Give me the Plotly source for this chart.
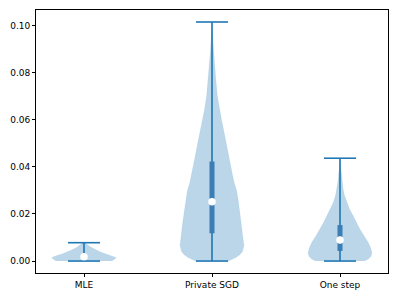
import plotly.graph_objects as go

categories = ["MLE", "Private SGD", "One step"]
positions = [1, 2, 3]

# data summary per group
mins = [0.0, 0.0, 0.0]
maxs = [0.0078, 0.1016, 0.0437]
q1s = [0.0012, 0.0118, 0.0043]
q3s = [0.0026, 0.0423, 0.0153]
medians = [0.0018, 0.0252, 0.0089]

# violin outline: values and relative density (1 = widest)
mle_vals = [0.0, 0.0004, 0.0010, 0.0015, 0.0020, 0.0030, 0.0040, 0.0050, 0.0060, 0.0070, 0.0078]
mle_dens = [0.87, 0.93, 0.98, 1.0, 0.92, 0.69, 0.50, 0.34, 0.21, 0.10, 0.04]

sgd_vals = [0.0, 0.0008, 0.0015, 0.0026, 0.004, 0.0065, 0.010, 0.015, 0.018, 0.022, 0.026,
            0.030, 0.033, 0.036, 0.040, 0.045, 0.050, 0.053, 0.056, 0.060, 0.064, 0.070,
            0.078, 0.085, 0.090, 0.095, 0.1016]
sgd_dens = [0.52, 0.66, 0.75, 0.86, 0.95, 1.0, 0.98, 0.93, 0.90, 0.86, 0.82,
            0.77, 0.70, 0.65, 0.59, 0.52, 0.45, 0.40, 0.36, 0.30, 0.24, 0.17,
            0.115, 0.072, 0.047, 0.025, 0.006]

one_vals = [0.0, 0.0008, 0.0020, 0.0035, 0.0055, 0.0080, 0.0110, 0.0136, 0.0165, 0.0192,
            0.0220, 0.0249, 0.0280, 0.0305, 0.0335, 0.0360, 0.0400, 0.0437]
one_dens = [0.76, 0.88, 0.97, 1.0, 0.96, 0.88, 0.74, 0.62, 0.51, 0.41,
            0.30, 0.21, 0.14, 0.10, 0.07, 0.05, 0.025, 0.005]

profiles = [(mle_vals, mle_dens), (sgd_vals, sgd_dens), (one_vals, one_dens)]

half_width = 0.25
cap_half = 0.125
body_color = "rgba(31,119,180,0.3)"
line_color = "#1f77b4"
box_color = "#3b7db5"

fig = go.Figure()

for pos, (vals, dens) in zip(positions, profiles):
    xs = [pos - half_width * d for d in dens] + [pos + half_width * d for d in reversed(dens)]
    ys = list(vals) + list(reversed(vals))
    fig.add_trace(go.Scatter(x=xs, y=ys, mode="lines", fill="toself",
                             fillcolor=body_color, line=dict(color="rgba(31,119,180,0.12)", width=0.5),
                             hoverinfo="skip", showlegend=False))

# whiskers
wx, wy = [], []
for pos, lo, hi in zip(positions, mins, maxs):
    wx += [pos, pos, None]
    wy += [lo, hi, None]
fig.add_trace(go.Scatter(x=wx, y=wy, mode="lines", line=dict(color=line_color, width=1.6),
                         hoverinfo="skip", showlegend=False))

# caps
cx, cy = [], []
for pos, lo, hi in zip(positions, mins, maxs):
    cx += [pos - cap_half, pos + cap_half, None, pos - cap_half, pos + cap_half, None]
    cy += [lo, lo, None, hi, hi, None]
fig.add_trace(go.Scatter(x=cx, y=cy, mode="lines", line=dict(color=line_color, width=1.6),
                         hoverinfo="skip", showlegend=False))

# quartile boxes
bx, by = [], []
for pos, a, b in zip(positions, q1s, q3s):
    bx += [pos, pos, None]
    by += [a, b, None]
fig.add_trace(go.Scatter(x=bx, y=by, mode="lines", line=dict(color=box_color, width=5),
                         hoverinfo="skip", showlegend=False))

# medians
fig.add_trace(go.Scatter(x=positions, y=medians, mode="markers",
                         marker=dict(color="white", size=7.5, line=dict(width=0)),
                         hoverinfo="skip", showlegend=False))

font = dict(family="DejaVu Sans", size=9, color="black")
axis_common = dict(showgrid=False, zeroline=False, showline=True, linecolor="black", linewidth=0.8,
                   mirror=True, ticks="outside", ticklen=3, tickwidth=0.8, tickcolor="black",
                   tickfont=font, automargin=False)
# the page body has an 8px margin, so the figure is placed at (8, 8)
fig.update_layout(
    width=391, height=289,
    margin=dict(l=28, r=11, t=2, b=24),
    plot_bgcolor="white", paper_bgcolor="white",
    font=font,
    xaxis=dict(range=[0.625, 3.375], tickvals=positions, ticktext=categories, **axis_common),
    yaxis=dict(range=[-0.00508, 0.1067], tickvals=[0, 0.02, 0.04, 0.06, 0.08, 0.10],
               ticktext=["0.00", "0.02", "0.04", "0.06", "0.08", "0.10"], **axis_common),
)

fig.write_html("out.html")
